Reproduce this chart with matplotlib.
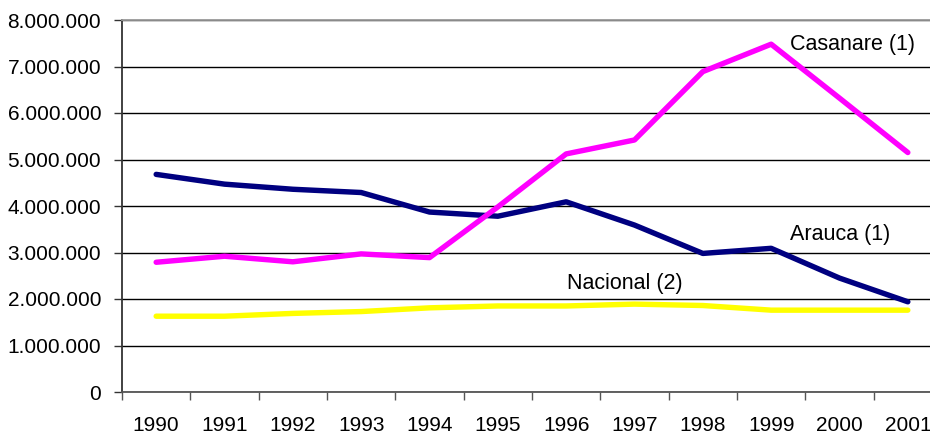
import matplotlib
matplotlib.use("Agg")
import matplotlib.pyplot as plt
from matplotlib.ticker import FuncFormatter, FixedLocator

# Data
years = ['1990', '1991', '1992', '1993', '1994', '1995',
         '1996', '1997', '1998', '1999', '2000', '2001']
casanare = [2790000, 2920000, 2800000, 2970000, 2890000, 3980000,
            5120000, 5420000, 6890000, 7480000, 6320000, 5150000]
arauca = [4680000, 4470000, 4360000, 4290000, 3870000, 3780000,
          4090000, 3590000, 2980000, 3090000, 2450000, 1940000]
nacional = [1630000, 1630000, 1690000, 1730000, 1810000, 1850000,
            1850000, 1890000, 1860000, 1760000, 1760000, 1760000]

plt.rcParams['font.family'] = ['Liberation Sans', 'DejaVu Sans']

W, H = 930, 433
fig = plt.figure(figsize=(W / 100, H / 100), dpi=100)
# plot area runs a bit past the right edge of the picture, as in the original
ax = fig.add_axes([122 / W, (H - 392) / H, (942 - 122) / W, (392 - 20) / H])

x = range(len(years))
ax.plot(x, nacional, color='#FFFF00', lw=3.9, solid_capstyle='round', zorder=3)
ax.plot(x, arauca, color='#000080', lw=3.9, solid_capstyle='round', zorder=4)
ax.plot(x, casanare, color='#FF00FF', lw=3.9, solid_capstyle='round', zorder=5)

ax.set_xlim(-0.5, len(years) - 0.5)
ax.set_ylim(0, 8000000)

# category labels centred, tick marks between categories
ax.set_xticks(list(x))
ax.set_xticklabels(years, fontsize=15)
ax.tick_params(axis='x', which='major', length=0, pad=17)
ax.xaxis.set_minor_locator(FixedLocator([i - 0.5 for i in range(len(years) + 1)]))
ax.tick_params(axis='x', which='minor', length=6, width=1, color='#555555')

ax.set_yticks(range(0, 8000001, 1000000))
ax.yaxis.set_major_formatter(FuncFormatter(lambda v, p: f"{int(v):,}".replace(",", ".")))
ax.tick_params(axis='y', length=6, width=1, pad=9, labelsize=15, color='#333333')

ax.grid(axis='y', color='black', lw=1, zorder=1)
ax.spines['left'].set_color('#333333')
ax.spines['left'].set_linewidth(1.3)
ax.spines['bottom'].set_color('#555555')
ax.spines['bottom'].set_linewidth(1.3)
ax.spines['top'].set_color('#999999')
ax.spines['top'].set_linewidth(1.3)
ax.spines['right'].set_color('#999999')

ax.text(9.27, 7.48e6, 'Casanare (1)', fontsize=15.5, ha='left', va='center')
ax.text(9.27, 3.38e6, 'Arauca (1)', fontsize=15.5, ha='left', va='center')
ax.text(6.01, 2.34e6, 'Nacional (2)', fontsize=15.5, ha='left', va='center')

fig.savefig('out.png', dpi=100)
